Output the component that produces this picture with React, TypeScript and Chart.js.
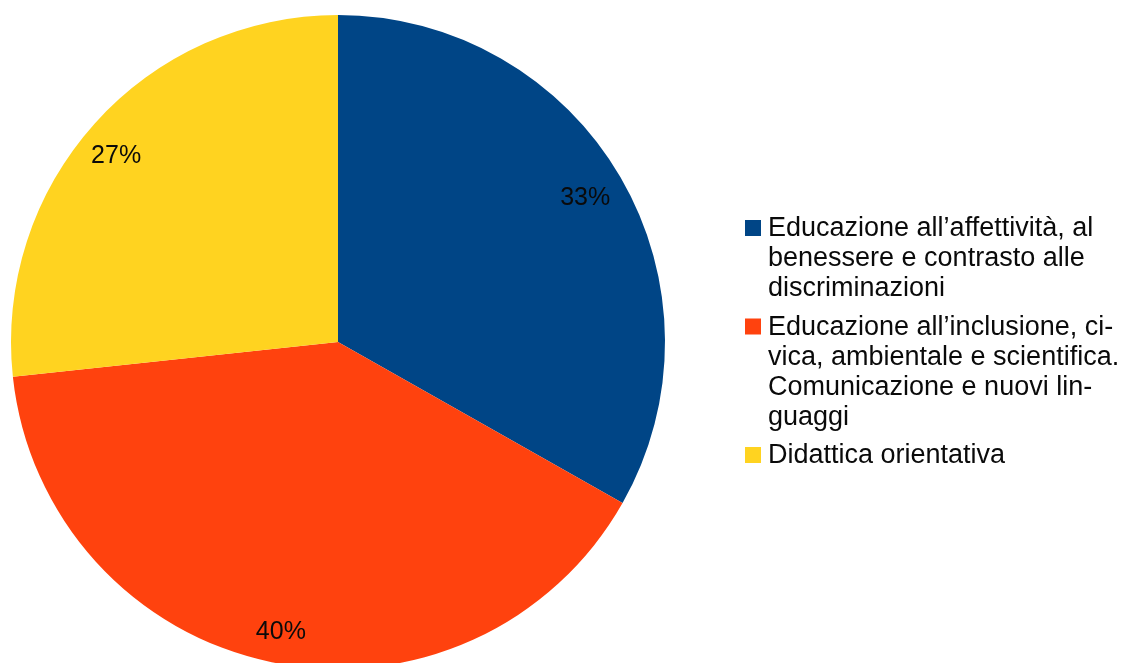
import React, { useEffect, useRef } from "react";
import { Chart, registerables } from "chart.js";

Chart.register(...registerables);

const categories: string[][] = [
  ["Educazione all’affettività, al", "benessere e contrasto alle", "discriminazioni"],
  ["Educazione all’inclusione, ci-", "vica, ambientale e scientifica.", "Comunicazione e nuovi lin-", "guaggi"],
  ["Didattica orientativa"],
];
const values: number[] = [33.2, 40.1, 26.7];
const colors: string[] = ["#004586", "#ff420e", "#ffd320"];

const FONT = '"Liberation Sans", Arial, sans-serif';

const pieLabels = {
  id: "pieLabels",
  afterDatasetsDraw(chart: any) {
    const meta = chart.getDatasetMeta(0);
    const ds = chart.data.datasets[0].data as number[];
    const total = ds.reduce((a, b) => a + b, 0);
    const factors = [0.875, 0.905, 0.885];
    const angleShift = [0, -0.01, -0.035];
    const ctx = chart.ctx;
    ctx.save();
    ctx.font = `25px ${FONT}`;
    ctx.fillStyle = "#0a0a0a";
    ctx.textAlign = "center";
    ctx.textBaseline = "middle";
    meta.data.forEach((arc: any, i: number) => {
      const { x, y, startAngle, endAngle, outerRadius } = arc.getProps(
        ["x", "y", "startAngle", "endAngle", "outerRadius"],
        true
      );
      const mid = (startAngle + endAngle) / 2 + angleShift[i];
      const r = outerRadius * factors[i];
      const pct = Math.round((ds[i] / total) * 100) + "%";
      ctx.fillText(pct, x + Math.cos(mid) * r, y + Math.sin(mid) * r);
    });
    ctx.restore();
  },
};

const sideLegend = {
  id: "sideLegend",
  afterDraw(chart: any) {
    const ctx = chart.ctx;
    const labels = chart.data.labels as string[][];
    const bg = chart.data.datasets[0].backgroundColor as string[];
    ctx.save();
    ctx.font = `27px ${FONT}`;
    ctx.textAlign = "left";
    ctx.textBaseline = "alphabetic";
    let base = 236;
    const lineH = 30;
    const gap = 8.5;
    labels.forEach((lines, i) => {
      ctx.fillStyle = bg[i];
      ctx.fillRect(745, base - 16, 16, 16);
      ctx.fillStyle = "#0a0a0a";
      lines.forEach((ln, j) => {
        ctx.fillText(ln, 768, base + j * lineH);
      });
      base += lines.length * lineH + gap;
    });
    ctx.restore();
  },
};

export default function App() {
  const ref = useRef<HTMLCanvasElement | null>(null);
  useEffect(() => {
    document.body.style.margin = "0";
    document.body.style.background = "#fff";
    if (!ref.current) return;
    const chart = new Chart(ref.current, {
      type: "pie",
      data: {
        labels: categories as any,
        datasets: [
          {
            data: values,
            backgroundColor: colors,
            borderWidth: 0,
          },
        ],
      },
      options: {
        animation: false,
        responsive: false,
        devicePixelRatio: 1,
        layout: { padding: { left: 11, top: 15, right: 462, bottom: 15 } },
        plugins: {
          legend: { display: false },
          tooltip: { enabled: false },
        },
      },
      plugins: [pieLabels, sideLegend],
    });
    return () => chart.destroy();
  }, []);
  return (
    <div style={{ position: "relative", width: 1127, height: 663, overflow: "hidden", background: "#fff" }}>
      <canvas ref={ref} width={1127} height={684} style={{ display: "block", width: 1127, height: 684 }} />
    </div>
  );
}
